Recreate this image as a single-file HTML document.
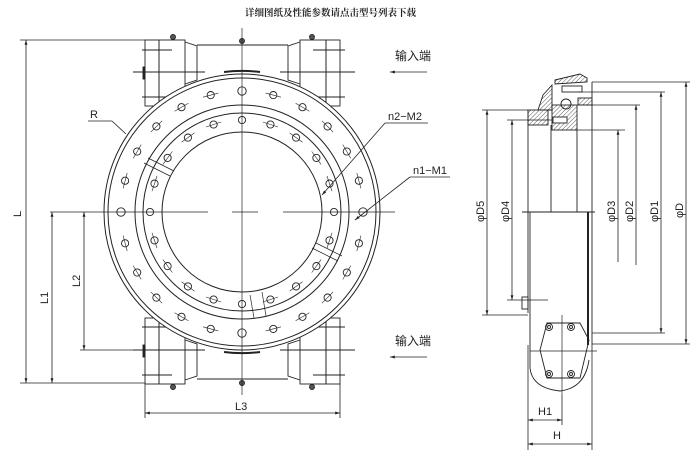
<!DOCTYPE html>
<html><head><meta charset="utf-8"><style>
html,body{margin:0;padding:0;background:#fff;}
svg{display:block}
text{font-family:"Liberation Sans","Noto Sans CJK SC",sans-serif;fill:#222}
</style></head><body>
<svg id="s" width="700" height="460" viewBox="0 0 700 460" xmlns="http://www.w3.org/2000/svg" stroke="#222" fill="none" stroke-width="1">
<defs>
<pattern id="h" width="3" height="3" patternUnits="userSpaceOnUse" patternTransform="rotate(45)"><line x1="0" y1="0" x2="0" y2="3" stroke="#333" stroke-width="0.8"/></pattern>
<marker id="a" viewBox="0 0 10 10" refX="10" refY="5" markerWidth="6" markerHeight="6" orient="auto-start-reverse"><path d="M0,2 L10,5 L0,8" fill="#222" stroke="none"/></marker>
</defs>
<text x="245" y="16" font-size="9.5" stroke="none" style="font-family:'Noto Serif CJK SC',serif;font-weight:bold">详细图纸及性能参数请点击型号列表下载</text>

<g stroke-width="0.9">
<rect x="145" y="40" width="14" height="66"/><rect x="159" y="40" width="26" height="66"/>
<path d="M185,42 L197,46 L197,80 L185,84"/>
<line x1="197" y1="45" x2="288" y2="45"/>
<rect x="300" y="40" width="26" height="66"/><rect x="326" y="40" width="14" height="66"/>
<path d="M300,42 L288,46 L288,80 L300,84"/>
<rect x="145" y="318" width="14" height="66"/><rect x="159" y="318" width="26" height="66"/>
<path d="M185,380 L197,376 L197,344 L185,340"/>
<line x1="197" y1="379" x2="288" y2="379"/>
<rect x="300" y="318" width="26" height="66"/><rect x="326" y="318" width="14" height="66"/>
<path d="M300,380 L288,376 L288,344 L300,340"/>
<line x1="142" y1="50" x2="172" y2="50"/><line x1="133" y1="72" x2="205" y2="72"/><line x1="142" y1="97" x2="172" y2="97"/>
<line x1="313" y1="50" x2="345" y2="50"/><line x1="280" y1="72" x2="355" y2="72"/><line x1="313" y1="97" x2="345" y2="97"/>
<line x1="142" y1="375" x2="172" y2="375"/><line x1="133" y1="350" x2="205" y2="350"/><line x1="142" y1="327" x2="172" y2="327"/>
<line x1="313" y1="375" x2="345" y2="375"/><line x1="280" y1="350" x2="355" y2="350"/><line x1="313" y1="327" x2="345" y2="327"/>
<rect x="143" y="67" width="2" height="12" fill="#222"/><rect x="143" y="345" width="2" height="12" fill="#222"/>
<circle cx="173" cy="37" r="2.5" fill="#555"/><circle cx="312" cy="37" r="2.5" fill="#555"/><circle cx="242" cy="41" r="2.5" fill="#555"/>
<circle cx="173" cy="387" r="2.5" fill="#555"/><circle cx="312" cy="387" r="2.5" fill="#555"/><circle cx="242" cy="383" r="2.5" fill="#555"/>
</g>
<g fill="#fff">
<circle cx="242" cy="212" r="138"/>
</g>
<circle cx="242" cy="212" r="134"/>
<circle cx="242" cy="212" r="107"/>
<circle cx="242" cy="212" r="99"/>
<circle cx="242" cy="212" r="80"/>
<path d="M224,72 A141,141 0 0 1 260,72" stroke-width="2"/>
<path d="M224,352 A141,141 0 0 0 260,352" stroke-width="2"/>
<g id="holes" stroke-width="0.9"></g>
<g stroke-width="0.7">
<line x1="242" y1="28" x2="242" y2="395"/>
<line x1="50" y1="212" x2="208" y2="212"/><line x1="232" y1="212" x2="258" y2="212"/><line x1="283" y1="212" x2="395" y2="212"/>
<line x1="144" y1="163" x2="170" y2="176"/><line x1="148" y1="158" x2="174" y2="171"/>
<line x1="312" y1="248" x2="338" y2="261"/><line x1="316" y1="243" x2="342" y2="256"/>
<line x1="250" y1="295" x2="254" y2="318"/><line x1="262" y1="292" x2="266" y2="316"/>
</g>
<line x1="88" y1="121" x2="112" y2="121" stroke-width="0.8"/><line x1="112" y1="121" x2="126" y2="134" stroke-width="0.8"/>
<text x="90" y="118" font-size="11" stroke="none">R</text>
<line x1="385" y1="123" x2="428" y2="123" stroke-width="0.8"/><line x1="385" y1="123" x2="322" y2="195" stroke-width="0.8" marker-end="url(#a)"/>
<text x="388" y="120" font-size="11" stroke="none">n2−M2</text>
<line x1="410" y1="177" x2="450" y2="177" stroke-width="0.8"/><line x1="410" y1="177" x2="355" y2="220" stroke-width="0.8" marker-end="url(#a)"/>
<text x="413" y="174" font-size="11" stroke="none">n1−M1</text>
<text x="395" y="60" font-size="12" stroke="none">输入端</text><line x1="390" y1="72" x2="427" y2="72" stroke-width="0.8" marker-start="url(#a)"/>
<text x="395" y="345" font-size="12" stroke="none">输入端</text><line x1="390" y1="357" x2="427" y2="357" stroke-width="0.8" marker-start="url(#a)"/>
<g stroke-width="0.8">
<line x1="20" y1="40" x2="145" y2="40"/><line x1="20" y1="383" x2="145" y2="383"/>
<line x1="26" y1="40" x2="26" y2="383" marker-start="url(#a)" marker-end="url(#a)"/>
<line x1="52" y1="212" x2="52" y2="383" marker-start="url(#a)" marker-end="url(#a)"/>
<line x1="80" y1="350" x2="145" y2="350"/>
<line x1="84" y1="212" x2="84" y2="350" marker-start="url(#a)" marker-end="url(#a)"/>
<line x1="145" y1="384" x2="145" y2="418"/><line x1="340" y1="384" x2="340" y2="418"/>
<line x1="145" y1="413" x2="340" y2="413" marker-start="url(#a)" marker-end="url(#a)"/>
</g>
<text font-size="11" stroke="none" transform="translate(21,217) rotate(-90)">L</text>
<text font-size="11" stroke="none" transform="translate(48,304) rotate(-90)">L1</text>
<text font-size="11" stroke="none" transform="translate(80,287) rotate(-90)">L2</text>
<text x="235" y="410" font-size="11" stroke="none">L3</text>

<g stroke-width="0.9">
<rect x="528" y="110" width="20" height="15" fill="url(#h)"/>
<rect x="552" y="105" width="25" height="25" fill="url(#h)"/>
<path d="M543,95 L552,85 L552,110 L538,110 Z" fill="url(#h)"/>
<path d="M555,80 L580,74 L587,78 L587,82 L555,84 Z" fill="url(#h)"/>
<rect x="578" y="98" width="14" height="7" fill="url(#h)"/>
<circle cx="566" cy="104" r="5"/>
<rect x="562" y="86" width="20" height="6" fill="#fff"/>
<rect x="553" y="117" width="14" height="6" fill="#fff"/>
<line x1="528" y1="110" x2="528" y2="313"/>
<line x1="530" y1="212" x2="530" y2="313"/>
<line x1="551" y1="125" x2="551" y2="212"/>
<line x1="577" y1="130" x2="577" y2="212"/>
<line x1="592" y1="82" x2="592" y2="345"/>
<line x1="588" y1="212" x2="588" y2="345" stroke-width="2"/>
<line x1="522" y1="212" x2="595" y2="212"/>
<path d="M530,313 L530,368 Q532,388 560,391 Q585,388 589,360"/>
<path d="M547,323 L580,323 L589,340 L580,378 L547,378 L540,350 Z"/>
<circle cx="549" cy="327" r="3.5"/><circle cx="549" cy="327" r="1.5"/>
<circle cx="571" cy="327" r="3.5"/><circle cx="571" cy="327" r="1.5"/>
<circle cx="549" cy="374" r="3.5"/><circle cx="549" cy="374" r="1.5"/>
<circle cx="571" cy="374" r="3.5"/><circle cx="571" cy="374" r="1.5"/>
<line x1="562" y1="315" x2="562" y2="395" stroke-width="0.7"/>
<line x1="530" y1="351" x2="597" y2="351" stroke-width="0.7"/>
<rect x="522" y="297" width="6" height="12"/>
</g>
<g stroke-width="0.8">
<line x1="592" y1="82" x2="690" y2="82"/><line x1="592" y1="344" x2="690" y2="344"/>
<line x1="686" y1="82" x2="686" y2="344" marker-start="url(#a)" marker-end="url(#a)"/>
<line x1="578" y1="92" x2="665" y2="92"/><line x1="592" y1="333" x2="665" y2="333"/>
<line x1="661" y1="92" x2="661" y2="333" marker-start="url(#a)" marker-end="url(#a)"/>
<line x1="578" y1="105" x2="640" y2="105"/>
<line x1="636" y1="105" x2="636" y2="265" marker-start="url(#a)"/>
<line x1="577" y1="130" x2="625" y2="130"/>
<line x1="618" y1="130" x2="618" y2="262" marker-start="url(#a)"/>
<line x1="482" y1="110" x2="528" y2="110"/><line x1="482" y1="315" x2="528" y2="315"/>
<line x1="487" y1="110" x2="487" y2="315" marker-start="url(#a)" marker-end="url(#a)"/>
<line x1="507" y1="120" x2="552" y2="120"/><line x1="507" y1="300" x2="548" y2="300"/>
<line x1="512" y1="120" x2="512" y2="300" marker-start="url(#a)" marker-end="url(#a)"/>
<line x1="528" y1="345" x2="528" y2="450"/><line x1="592" y1="345" x2="592" y2="450"/>
<line x1="562" y1="395" x2="562" y2="425"/>
<line x1="528" y1="420" x2="562" y2="420" marker-start="url(#a)" marker-end="url(#a)"/>
<line x1="528" y1="444" x2="592" y2="444" marker-start="url(#a)" marker-end="url(#a)"/>
</g>
<text x="538" y="415" font-size="11" stroke="none">H1</text>
<text x="553" y="439" font-size="11" stroke="none">H</text>
<text font-size="11" stroke="none" transform="translate(484,222) rotate(-90)">φD5</text>
<text font-size="11" stroke="none" transform="translate(509,222) rotate(-90)">φD4</text>
<text font-size="11" stroke="none" transform="translate(615,222) rotate(-90)">φD3</text>
<text font-size="11" stroke="none" transform="translate(633,222) rotate(-90)">φD2</text>
<text font-size="11" stroke="none" transform="translate(658,222) rotate(-90)">φD1</text>
<text font-size="11" stroke="none" transform="translate(683,218) rotate(-90)">φD</text>
</svg>
<script>
var g=document.getElementById('holes'),ns='http://www.w3.org/2000/svg',cx=242,cy=212;
function hole(r,a,rad,cross){var x=cx+r*Math.cos(a),y=cy+r*Math.sin(a);
var c=document.createElementNS(ns,'circle');c.setAttribute('cx',x.toFixed(1));c.setAttribute('cy',y.toFixed(1));c.setAttribute('r',rad);g.appendChild(c);
if(cross){var l=document.createElementNS(ns,'line');var t=a+Math.PI/2;
l.setAttribute('x1',(x-8*Math.cos(t)).toFixed(1));l.setAttribute('y1',(y-8*Math.sin(t)).toFixed(1));
l.setAttribute('x2',(x+8*Math.cos(t)).toFixed(1));l.setAttribute('y2',(y+8*Math.sin(t)).toFixed(1));l.setAttribute('stroke-width','0.6');g.appendChild(l);}}
for(var i=0;i<24;i++){hole(121,i*Math.PI/12,i%6==0?4.2:3.6,i%6!=0);}
for(var i=0;i<20;i++){hole(92,i*Math.PI/10,3.6,i%5!=0);}
</script>
</body></html>
